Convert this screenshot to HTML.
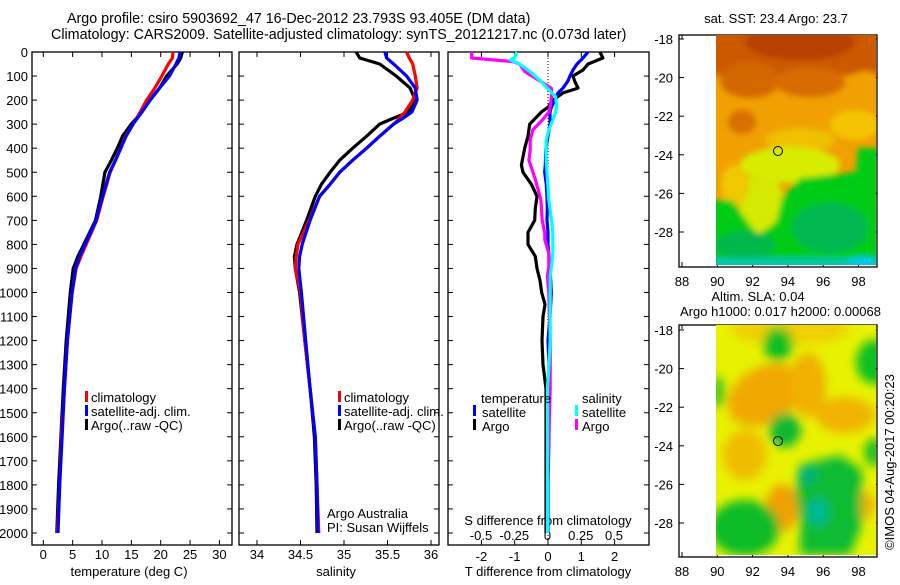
<!DOCTYPE html>
<html><head><meta charset="utf-8">
<style>
html,body{margin:0;padding:0;background:#fff;}
svg text{font-family:"Liberation Sans",sans-serif;font-size:13px;fill:#000;}
</style></head>
<body>
<svg id="chart" width="900" height="580" viewBox="0 0 900 580" xmlns="http://www.w3.org/2000/svg">
<defs>
<filter id="blur6" x="-50%" y="-50%" width="200%" height="200%"><feGaussianBlur stdDeviation="5"/></filter>
<filter id="blur3" x="-50%" y="-50%" width="200%" height="200%"><feGaussianBlur stdDeviation="3"/></filter>
<clipPath id="clip1"><rect x="716" y="35" width="160" height="230"/></clipPath>
<clipPath id="clip2"><rect x="716" y="325" width="160" height="230"/></clipPath>
</defs>
<text x="67" y="23" style="font-size:14.3px">Argo profile: csiro 5903692_47 16-Dec-2012 23.793S 93.405E (DM data)</text>
<text x="51" y="39" style="font-size:14.3px">Climatology: CARS2009. Satellite-adjusted climatology: synTS_20121217.nc (0.073d later)</text>
<g id="axes"></g>
<g id="series"></g>

<!-- map 1 -->
<g>
<text x="776" y="23" text-anchor="middle">sat. SST: 23.4  Argo: 23.7</text>
<g clip-path="url(#clip1)">
<rect x="716" y="35" width="160" height="230" fill="#f0a000"/>
<g filter="url(#blur3)">
<rect x="700" y="20" width="200" height="55" fill="#cc5800"/>
<ellipse cx="800" cy="42" rx="55" ry="18" fill="#b84000"/>
<ellipse cx="750" cy="80" rx="30" ry="18" fill="#d46800"/>
<ellipse cx="810" cy="82" rx="35" ry="15" fill="#d86c00"/>
<ellipse cx="865" cy="85" rx="18" ry="14" fill="#f0a000"/>
<ellipse cx="742" cy="122" rx="14" ry="12" fill="#d87000"/>
<ellipse cx="855" cy="125" rx="25" ry="15" fill="#f4c400"/>
<ellipse cx="800" cy="140" rx="35" ry="12" fill="#f0c000"/>
<ellipse cx="790" cy="165" rx="50" ry="18" fill="#d8ec00"/>
<ellipse cx="762" cy="205" rx="22" ry="32" fill="#d4ea00"/>
<ellipse cx="735" cy="185" rx="14" ry="20" fill="#f0c800"/>
<polygon points="858,148 880,148 880,270 700,270 700,200 732,200 745,218 758,235 776,222 782,198 800,178 856,172" fill="#00cc18"/>
<ellipse cx="830" cy="228" rx="38" ry="25" fill="#00b850"/>
<ellipse cx="745" cy="245" rx="30" ry="14" fill="#00b848"/>
<rect x="700" y="258" width="200" height="12" fill="#00c8a8"/>
<ellipse cx="862" cy="262" rx="14" ry="5" fill="#00c8f0"/>
</g>
</g>
<circle cx="778" cy="151" r="4.5" fill="none" stroke="#000" stroke-width="1"/>
</g>

<!-- map 2 -->
<g>
<text x="758" y="301" text-anchor="middle">Altim. SLA: 0.04</text>
<text x="680" y="316">Argo h1000: 0.017 h2000: 0.00068</text>
<g clip-path="url(#clip2)">
<rect x="716" y="325" width="160" height="230" fill="#e8f200"/>
<g filter="url(#blur6)">
<ellipse cx="790" cy="330" rx="60" ry="15" fill="#f0d000"/>
<ellipse cx="765" cy="395" rx="40" ry="28" fill="#f0a800" transform="rotate(-30 765 395)"/>
<ellipse cx="808" cy="385" rx="18" ry="32" fill="#f0b000"/>
<ellipse cx="845" cy="415" rx="30" ry="18" fill="#f0b400"/>
<ellipse cx="745" cy="455" rx="22" ry="25" fill="#f0bc00"/>
<ellipse cx="782" cy="508" rx="16" ry="24" fill="#f0a000"/>
<ellipse cx="864" cy="505" rx="11" ry="14" fill="#f0b000"/>
<ellipse cx="778" cy="344" rx="15" ry="17" fill="#10c020"/>
<ellipse cx="874" cy="362" rx="18" ry="22" fill="#10c020"/>
<ellipse cx="718" cy="392" rx="7" ry="16" fill="#40c820"/>
<ellipse cx="785" cy="430" rx="16" ry="17" fill="#10b830"/>
<ellipse cx="874" cy="452" rx="10" ry="14" fill="#20c020"/>
<polygon points="800,465 840,455 862,470 862,525 850,555 800,555 800,525 795,490" fill="#10bc30"/>
<ellipse cx="745" cy="528" rx="35" ry="28" fill="#10bc28"/>
<ellipse cx="818" cy="512" rx="10" ry="14" fill="#00b898"/>
<ellipse cx="808" cy="475" rx="9" ry="9" fill="#00b080"/>
</g>
</g>
<circle cx="778" cy="441" r="4.5" fill="none" stroke="#000" stroke-width="1"/>
</g>
<text x="0" y="0" transform="translate(894,462) rotate(-90)" text-anchor="middle">©IMOS 04-Aug-2017 00:20:23</text>

<!-- legends -->
<g>
<rect x="85" y="391" width="3" height="11" fill="#f00"/><text x="91" y="402">climatology</text>
<rect x="85" y="405" width="3" height="11" fill="#00f"/><text x="91" y="416">satellite-adj. clim.</text>
<rect x="85" y="419" width="3" height="11" fill="#000"/><text x="91" y="430">Argo(..raw -QC)</text>
</g>
<g>
<rect x="338" y="391" width="3" height="11" fill="#f00"/><text x="344" y="402">climatology</text>
<rect x="338" y="405" width="3" height="11" fill="#00f"/><text x="344" y="416">satellite-adj. clim.</text>
<rect x="338" y="419" width="3" height="11" fill="#000"/><text x="344" y="430">Argo(..raw -QC)</text>
<text x="327" y="518">Argo Australia</text>
<text x="327" y="532">PI: Susan Wijffels</text>
</g>
<g>
<text x="481" y="403">temperature</text>
<rect x="473" y="405" width="3" height="11" fill="#00f"/><text x="482" y="417">satellite</text>
<rect x="473" y="419" width="3" height="11" fill="#000"/><text x="482" y="431">Argo</text>
<text x="582" y="403">salinity</text>
<rect x="575" y="405" width="3" height="11" fill="#0ff"/><text x="582" y="417">satellite</text>
<rect x="575" y="419" width="3" height="11" fill="#f0f"/><text x="582" y="431">Argo</text>
</g>
</svg>
<script>
// ---- data ----
const depths = [0,25,50,100,150,200,250,300,350,400,450,500,600,700,800,850,900,1000,1200,1400,1600,1800,2000];
const tempClim = [22.1,22.0,21.3,20.2,19.0,17.6,16.5,15.3,14.0,13.2,12.3,11.4,10.2,9.1,7.3,6.4,5.6,4.9,4.1,3.6,3.1,2.8,2.4];
const tempSat  = [23.3,23.1,22.6,21.5,19.8,18.2,16.8,15.3,14.1,13.2,12.3,11.3,10.1,9.0,7.1,6.2,5.5,4.9,4.1,3.6,3.2,2.8,2.5];
const tempArgo = [23.7,23.4,22.8,21.0,19.8,18.2,16.8,15.0,13.5,12.6,11.6,10.5,9.8,8.9,6.9,5.9,5.1,4.6,3.9,3.4,3.0,2.6,2.3];
const salDepths = [0,25,50,100,150,200,250,275,300,350,400,450,500,550,600,700,800,850,900,1000,1200,1400,1600,1800,2000];
const salClim = [35.72,35.75,35.79,35.82,35.84,35.79,35.70,35.64,35.57,35.41,35.26,35.10,34.95,34.84,34.72,34.60,34.47,34.45,34.44,34.50,34.55,34.61,34.67,34.69,34.71];
const salSat  = [35.47,35.49,35.57,35.72,35.82,35.84,35.78,35.68,35.57,35.41,35.26,35.10,34.95,34.84,34.72,34.61,34.52,34.49,34.48,34.51,34.56,34.61,34.67,34.69,34.70];
const salArgo = [35.14,35.18,35.41,35.60,35.76,35.82,35.74,35.57,35.41,35.26,35.10,34.95,34.84,34.74,34.67,34.57,34.46,34.43,34.44,34.49,34.55,34.61,34.66,34.68,34.69];
const dtDepths = [0,25,50,75,100,120,150,170,200,230,250,300,350,400,470,500,550,600,650,700,750,800,850,900,950,1000,1050,1100,1200,1300,1400,1600,1800,2000];
const dtArgo = [1.56,1.65,1.2,1.05,0.75,0.8,0.9,0.45,0.15,0.0,-0.2,-0.55,-0.6,-0.7,-0.8,-0.75,-0.5,-0.33,-0.38,-0.4,-0.6,-0.6,-0.38,-0.33,-0.24,-0.19,-0.09,-0.15,-0.18,-0.15,-0.06,-0.06,-0.06,-0.06];
const dtSat  = [1.2,1.05,0.87,0.75,0.66,0.6,0.45,0.3,0.21,0.1,0.06,0.06,0.0,-0.06,-0.08,-0.1,-0.05,-0.03,-0.02,-0.03,0.0,0.0,0.03,0.06,0.08,0.1,0.08,0.06,0.0,0.03,0.03,0.03,0.0,0.0];
const dsDepths = [0,25,33,40,50,82,116,151,186,227,250,283,324,366,408,450,532,615,698,754,781,837,891,933,1000,1200,1400,1600,1800,2000];
const dsArgo = [-0.57,-0.57,-0.41,-0.26,-0.21,-0.17,-0.07,0.03,0.03,0.02,0.01,-0.04,-0.11,-0.13,-0.13,-0.14,-0.09,-0.05,-0.04,-0.02,-0.02,0.01,0.01,0.0,0.01,0.02,0.02,0.01,0.0,0.0];
const dsSat  = [-0.23,-0.25,-0.28,-0.25,-0.21,-0.13,-0.06,0.0,0.06,0.07,0.06,0.04,0.01,-0.01,-0.01,-0.01,0.0,0.01,0.03,0.04,0.04,0.04,0.03,0.02,0.02,0.02,0.0,0.0,0.0,0.0];
const depthTicks = [0,100,200,300,400,500,600,700,800,900,1000,1100,1200,1300,1400,1500,1600,1700,1800,1900,2000];
const tempTicks = [0,5,10,15,20,25,30];
const salTicks = [34,34.5,35,35.5,36];
const dtTicks = [-2,-1,0,1,2];
const dsTicks = [-0.5,-0.25,0,0.25,0.5];
const dsTickLabels = ["-0.5","-0.25","0","0.25","0.5"];
const latTicks = [-18,-20,-22,-24,-26,-28];
const lonTicks = [88,90,92,94,96,98];

// ---- scales ----
const Y0=52, YB=545;
const yD = d => Y0 + d*0.2405;
const xT = t => 43.3 + t*5.87;
const xS = s => 257 + (s-34)*87;
const xDT = v => 548 + v*33.3;
const xDS = v => 547.5 + v*133;
const mxLon = l => 682 + (l-88)*17.65;
const myLat1 = l => 39 + (-18-l)*19.3;
const myLat2 = l => 330 + (-18-l)*19.3;

const NS="http://www.w3.org/2000/svg";
const axes=document.getElementById('axes');
const series=document.getElementById('series');
function mk(tag,attrs,parent,txt){const e=document.createElementNS(NS,tag);for(const k in attrs)e.setAttribute(k,attrs[k]);if(txt!==undefined)e.textContent=txt;parent.appendChild(e);return e;}

function panel(name,x0,x1,ticksX,fx,labels,labelY,showDepth){
  const g=mk('g',{},axes);
  
  
  mk('rect',{x:x0,y:Y0,width:x1-x0,height:YB-Y0,fill:'none',stroke:'#000','stroke-width':1.3},g);
  depthTicks.forEach(d=>{
    const y=yD(d);
    mk('line',{x1:x0,x2:x0+5,y1:y,y2:y,stroke:'#000'},g);
    mk('line',{x1:x1-5,x2:x1,y1:y,y2:y,stroke:'#000'},g);
    if(showDepth){const t=mk('text',{x:28,y:y+5,'text-anchor':'end'},g,String(d));
      
      }
  });
  if(ticksX) ticksX.forEach((v,i)=>{
    const x=fx(v);
    mk('line',{x1:x,x2:x,y1:YB,y2:YB-5,stroke:'#000'},g);
    mk('line',{x1:x,x2:x,y1:Y0,y2:Y0+5,stroke:'#000'},g);
    if(labels){const t=mk('text',{x:x,y:labelY,'text-anchor':'middle'},g,labels[i]);
      
      }
  });
  return g;
}
panel('temperature-panel',32,232,tempTicks,xT,tempTicks.map(String),559,true);
panel('salinity-panel',239,439,salTicks,xS,salTicks.map(String),559,false);
const p3=panel('difference-panel',448,649,dtTicks,xDT,dtTicks.map(String),561,false);
dsTicks.forEach((v,i)=>{const t=mk('text',{x:xDS(v),y:540,'text-anchor':'middle'},p3,dsTickLabels[i]);
  
  });
mk('line',{x1:548,x2:548,y1:Y0,y2:YB,stroke:'#000','stroke-dasharray':'1,2'},p3);
let t;
t=mk('text',{x:129,y:576,'text-anchor':'middle'},axes,'temperature (deg C)');


t=mk('text',{x:336,y:576,'text-anchor':'middle'},axes,'salinity');


t=mk('text',{x:548,y:576,'text-anchor':'middle'},axes,'T difference from climatology');


t=mk('text',{x:548,y:525,'text-anchor':'middle'},axes,'S difference from climatology');



function line(name,ds,vals,fx,color){
  const pts=ds.map((d,i)=>fx(vals[i]).toFixed(1)+','+yD(d).toFixed(1)).join(' ');
  const p=mk('polyline',{points:pts,fill:'none',stroke:color,'stroke-width':3.2,'stroke-linejoin':'round'},series);
  
  
}
line('temp-argo',depths,tempArgo,xT,'#000');
line('temp-climatology',depths,tempClim,xT,'#f00');
line('temp-satellite',depths,tempSat,xT,'#00f');
line('sal-argo',salDepths,salArgo,xS,'#000');
line('sal-climatology',salDepths,salClim,xS,'#f00');
line('sal-satellite',salDepths,salSat,xS,'#00f');
line('t-diff-argo',dtDepths,dtArgo,xDT,'#000');
line('t-diff-satellite',dtDepths,dtSat,xDT,'#00f');
line('s-diff-argo',dsDepths,dsArgo,xDS,'#f0f');
line('s-diff-satellite',dsDepths,dsSat,xDS,'#0ff');

function mapAxes(name,yTop,fy){
  const g=mk('g',{},axes);
  
  
  mk('rect',{x:679,y:yTop,width:198,height:232,fill:'none',stroke:'#000','stroke-width':1.3},g);
  latTicks.forEach(l=>{const y=fy(l);
    mk('line',{x1:679,x2:684,y1:y,y2:y,stroke:'#000'},g);
    mk('line',{x1:872,x2:877,y1:y,y2:y,stroke:'#000'},g);
    const tt=mk('text',{x:673,y:y+5,'text-anchor':'end'},g,String(l));
    
    });
  lonTicks.forEach(l=>{const x=mxLon(l);
    mk('line',{x1:x,x2:x,y1:yTop+232,y2:yTop+227,stroke:'#000'},g);
    mk('line',{x1:x,x2:x,y1:yTop,y2:yTop+4,stroke:'#000'},g);
    const tt=mk('text',{x:x,y:yTop+251,'text-anchor':'middle'},g,String(l));
    
    });
}
mapAxes('sst-map-axes',35,myLat1);
mapAxes('sla-map-axes',325,myLat2);
</script>
</body></html>
